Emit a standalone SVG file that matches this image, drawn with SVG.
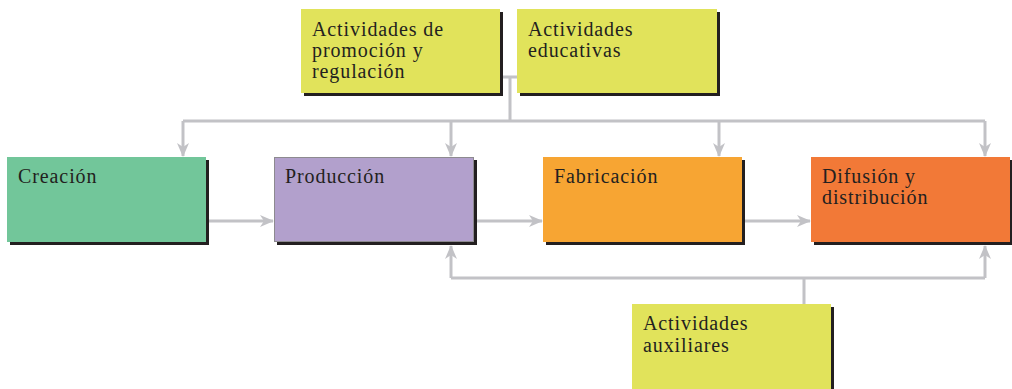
<svg xmlns="http://www.w3.org/2000/svg" width="1012" height="389" viewBox="0 0 1012 389">
<defs>
<style>
.lbl{font-family:"Liberation Serif","DejaVu Serif",serif;font-size:20px;letter-spacing:0.9px;fill:#231f20;}
.sh{fill:#231f20;}
.con{stroke:#c2c2c6;stroke-width:3;fill:none;}
</style>
<marker id="ah" viewBox="0 0 14 14" refX="13" refY="7" markerWidth="14" markerHeight="14" markerUnits="userSpaceOnUse" orient="auto">
<path d="M0,1 L14,7 L0,13 L4,7 Z" fill="#c2c2c6"/>
</marker>
</defs>
<rect width="1012" height="389" fill="#ffffff"/>
<g id="connectors">
<path class="con" d="M500,77 H517 M510,77 V121 M183,121 H985"/>
<path class="con" d="M183,121 V156" marker-end="url(#ah)"/>
<path class="con" d="M451,121 V156" marker-end="url(#ah)"/>
<path class="con" d="M719,121 V156" marker-end="url(#ah)"/>
<path class="con" d="M985,121 V156" marker-end="url(#ah)"/>
<path class="con" d="M206,221 H273" marker-end="url(#ah)"/>
<path class="con" d="M474,221 H542" marker-end="url(#ah)"/>
<path class="con" d="M742,221 H810" marker-end="url(#ah)"/>
<path class="con" d="M451,278 V246" marker-end="url(#ah)"/>
<path class="con" d="M985,278 V246" marker-end="url(#ah)"/>
<path class="con" d="M451,278 H985 M804,278 V305"/>
</g>
<g id="promocion">
<rect class="sh" x="304" y="12" width="199" height="84"/>
<rect x="301" y="9" width="199" height="84" fill="#e1e35b"/>
<text class="lbl"><tspan x="312" y="36">Actividades de</tspan><tspan x="312" y="57">promoción y</tspan><tspan x="312" y="78">regulación</tspan></text>
</g>
<g id="educativas">
<rect class="sh" x="520" y="12" width="200" height="84"/>
<rect x="517" y="9" width="200" height="84" fill="#e1e35b"/>
<text class="lbl"><tspan x="528" y="36">Actividades</tspan><tspan x="528" y="57">educativas</tspan></text>
</g>
<g id="creacion">
<rect class="sh" x="10" y="160" width="199" height="85"/>
<rect x="7" y="157" width="199" height="85" fill="#72c69a"/>
<text class="lbl" x="18" y="183">Creación</text>
</g>
<g id="produccion">
<rect class="sh" x="277" y="160" width="200" height="85"/>
<rect x="274.5" y="157.5" width="199" height="84" fill="#b2a0cc" stroke="#8d8a8f" stroke-width="1"/>
<text class="lbl" x="285" y="183">Producción</text>
</g>
<g id="fabricacion">
<rect class="sh" x="546" y="160" width="199" height="85"/>
<rect x="543" y="157" width="199" height="85" fill="#f7a533"/>
<text class="lbl" x="554" y="183">Fabricación</text>
</g>
<g id="difusion">
<rect class="sh" x="814" y="160" width="199" height="85"/>
<rect x="811" y="157" width="199" height="85" fill="#f27937"/>
<text class="lbl"><tspan x="822" y="183">Difusión y</tspan><tspan x="822" y="204">distribución</tspan></text>
</g>
<g id="auxiliares">
<rect class="sh" x="635" y="307" width="199" height="90"/>
<rect x="632" y="304" width="199" height="90" fill="#e1e35b"/>
<text class="lbl"><tspan x="643" y="330">Actividades</tspan><tspan x="643" y="352">auxiliares</tspan></text>
</g>
</svg>
